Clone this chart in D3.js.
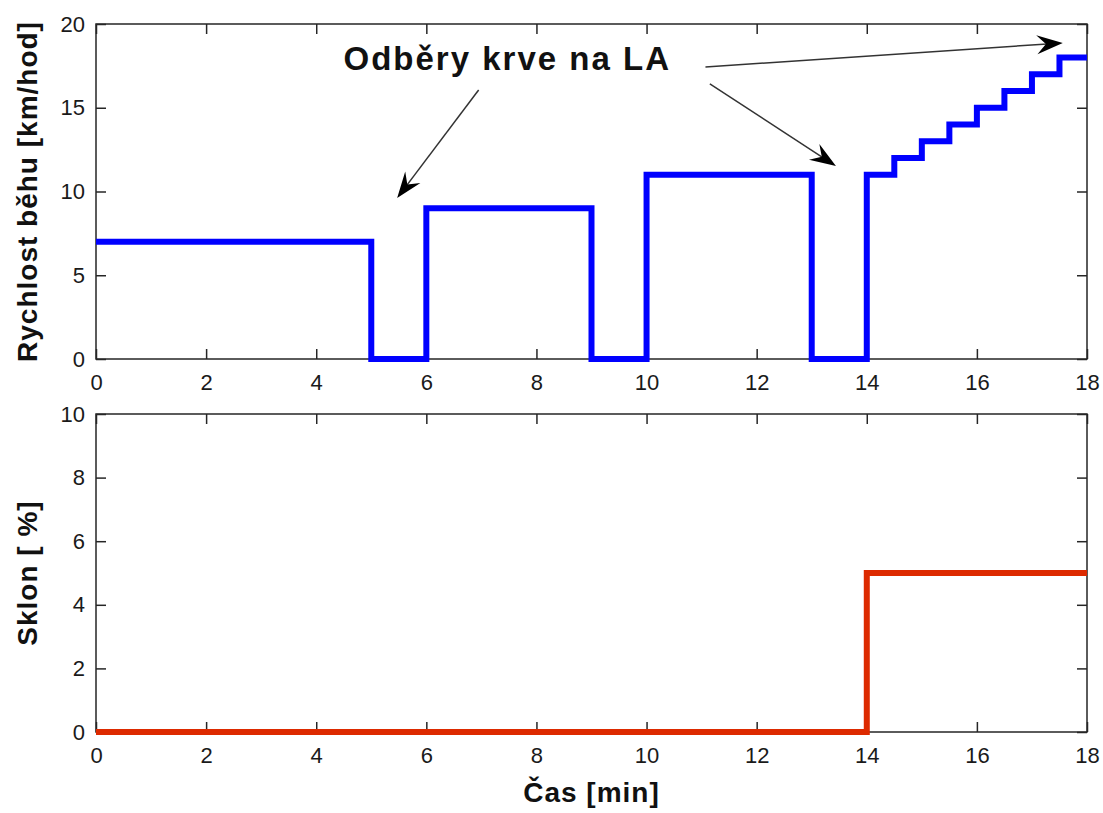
<!DOCTYPE html>
<html>
<head>
<meta charset="utf-8">
<script src="https://cdn.jsdelivr.net/npm/d3@7"></script>
<style>
  body { margin: 0; background: #fff; }
  svg { display: block; }
  .tick text { font-family: "Liberation Sans", Arial, sans-serif; font-size: 22px; fill: #1a1a1a; }
  .axisLabel { font-family: "Liberation Sans", Arial, sans-serif; font-size: 28px; font-weight: bold; fill: #111; letter-spacing: 1px; }
  .note { font-family: "Liberation Sans", Arial, sans-serif; font-size: 33px; font-weight: bold; fill: #111; letter-spacing: 2px; }
</style>
</head>
<body>
<div id="chart"></div>
<script>
// time [min] where each step starts, and the value held from there
var speedTimes = [0, 5, 6, 9, 10, 13, 14, 14.5, 15, 15.5, 16, 16.5, 17, 17.5, 18];
var speedValues = [7, 0, 9, 0, 11, 0, 11, 12, 13, 14, 15, 16, 17, 18, 18];
var slopeTimes = [0, 14, 18];
var slopeValues = [0, 5, 5];

var xTicks = [0, 2, 4, 6, 8, 10, 12, 14, 16, 18];
var speedTicks = [0, 5, 10, 15, 20];
var slopeTicks = [0, 2, 4, 6, 8, 10];

var noteText = "Odběry krve na LA";
var notePos = [7.47, 17.25];           // data coords of text centre/baseline
// arrows: [x0, y0, x1, y1] in data coords of the upper chart
var noteArrows = [
    [6.95, 16.06, 5.47, 9.61],
    [11.07, 17.43, 17.56, 18.87],
    [11.15, 16.42, 13.44, 11.52]
];

var width = 1103, height = 813;
var left = 96, right = 1087;

var svg = d3.select("#chart").append("svg")
    .attr("width", width)
    .attr("height", height);

var x = d3.scaleLinear().domain([0, 18]).range([left, right]);

function drawPanel(top, bottom, ymax, yticks, ylabel, times, values, color) {
    var y = d3.scaleLinear().domain([0, ymax]).range([bottom, top]);
    var g = svg.append("g");
    var tk = 10;

    // box
    g.append("rect")
        .attr("x", left).attr("y", top)
        .attr("width", right - left).attr("height", bottom - top)
        .attr("fill", "none").attr("stroke", "#262626").attr("stroke-width", 1.5);

    // inner ticks on all sides
    var xa = g.append("g").attr("transform", "translate(0," + bottom + ")")
        .call(d3.axisBottom(x).tickValues(xTicks).tickSize(-tk).tickPadding(15));
    var xt = g.append("g").attr("transform", "translate(0," + top + ")")
        .call(d3.axisTop(x).tickValues(xTicks).tickSize(-tk).tickFormat(""));
    var ya = g.append("g").attr("transform", "translate(" + left + ",0)")
        .call(d3.axisLeft(y).tickValues(yticks).tickSize(-tk).tickPadding(11));
    var yr = g.append("g").attr("transform", "translate(" + right + ",0)")
        .call(d3.axisRight(y).tickValues(yticks).tickSize(-tk).tickFormat(""));
    [xa, xt, ya, yr].forEach(function(a) {
        a.select(".domain").remove();
        a.selectAll("line").attr("stroke", "#262626").attr("stroke-width", 1.5);
    });

    g.append("text")
        .attr("class", "axisLabel")
        .attr("transform", "translate(37," + ((top + bottom) / 2) + ") rotate(-90)")
        .attr("text-anchor", "middle")
        .text(ylabel);

    var line = d3.line()
        .x(function(d) { return x(d[0]); })
        .y(function(d) { return y(d[1]); })
        .curve(d3.curveStepAfter);

    g.append("path")
        .datum(d3.zip(times, values))
        .attr("d", line)
        .attr("fill", "none")
        .attr("stroke", color)
        .attr("stroke-width", 6)
        .attr("stroke-linejoin", "miter");

    return y;
}

var ySpeed = drawPanel(24, 359, 20, speedTicks, "Rychlost běhu [km/hod]", speedTimes, speedValues, "#0000ff");
drawPanel(414, 732, 10, slopeTicks, "Sklon [ %]", slopeTimes, slopeValues, "#dd2a00");

svg.append("text")
    .attr("class", "axisLabel")
    .attr("x", (left + right) / 2)
    .attr("y", 802)
    .attr("text-anchor", "middle")
    .text("Čas [min]");

/* annotation */
svg.append("text")
    .attr("class", "note")
    .attr("x", x(notePos[0]))
    .attr("y", ySpeed(notePos[1]))
    .attr("text-anchor", "middle")
    .text(noteText);

noteArrows.forEach(function(a) {
    var x0 = x(a[0]), y0 = ySpeed(a[1]), x1 = x(a[2]), y1 = ySpeed(a[3]);
    var ang = Math.atan2(y1 - y0, x1 - x0) * 180 / Math.PI;
    var len = Math.hypot(x1 - x0, y1 - y0);
    var hl = 26, hw = 19;
    var ag = svg.append("g")
        .attr("transform", "translate(" + x1 + "," + y1 + ") rotate(" + ang + ")");
    ag.append("line")
        .attr("x1", -len).attr("y1", 0)
        .attr("x2", -hl * 0.6).attr("y2", 0)
        .attr("stroke", "#333").attr("stroke-width", 1.5);
    ag.append("path")
        .attr("d", "M0,0 L" + (-hl) + "," + (-hw / 2) + " L" + (-hl * 0.65) + ",0 L" + (-hl) + "," + (hw / 2) + " Z")
        .attr("fill", "#000");
});
</script>
</body>
</html>
